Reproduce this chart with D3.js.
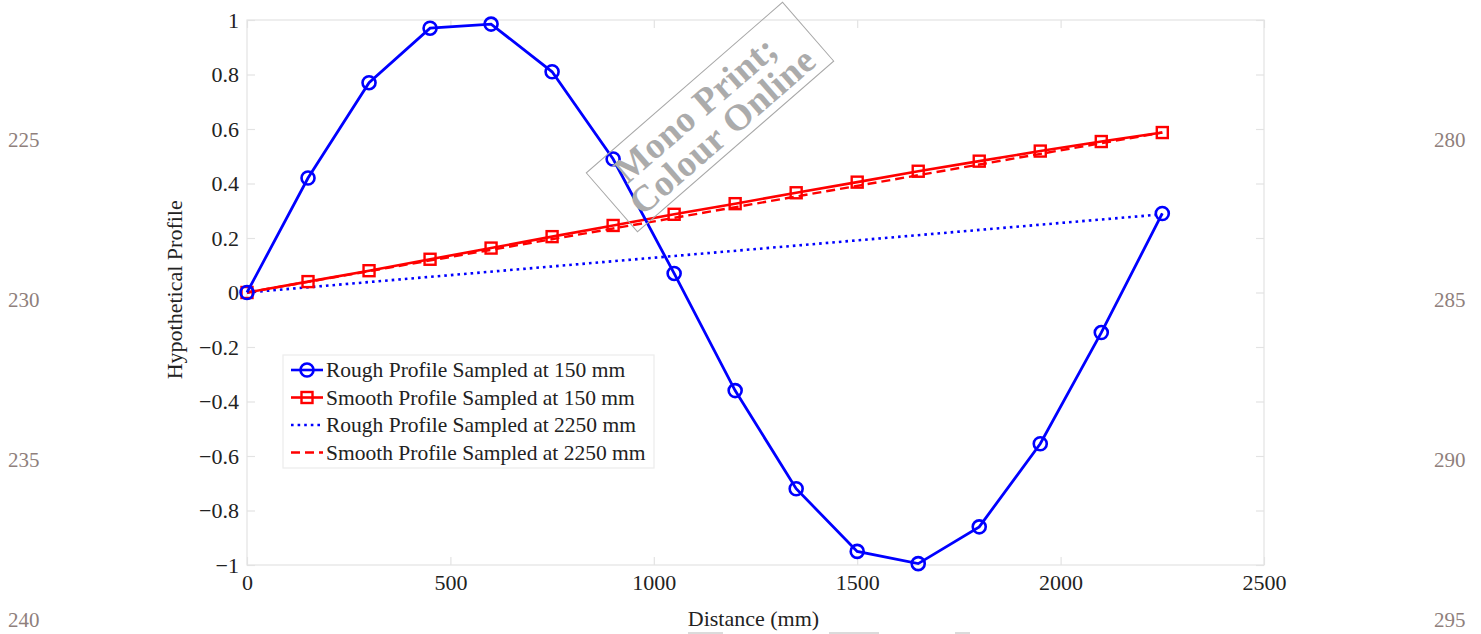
<!DOCTYPE html>
<html>
<head>
<meta charset="utf-8">
<script src="https://cdn.jsdelivr.net/npm/d3@7"></script>
<style>
  body { margin: 0; background: #fff; }
  svg { display: block; font-family: "Liberation Serif", "DejaVu Serif", serif; }
</style>
</head>
<body>
<div id="vis"></div>
<script>
// sample positions (mm)
var distance150 = [0, 150, 300, 450, 600, 750, 900, 1050, 1200, 1350, 1500, 1650, 1800, 1950, 2100, 2250];
var rough150 = [0, 0.42, 0.77, 0.97, 0.985, 0.81, 0.49, 0.07, -0.36, -0.72, -0.95, -0.995, -0.86, -0.555, -0.147, 0.29];
var smooth150 = [0, 0.04, 0.08, 0.122, 0.163, 0.205, 0.246, 0.287, 0.326, 0.366, 0.405, 0.445, 0.482, 0.519, 0.554, 0.587];
var distance2250 = [0, 2250];
var rough2250 = [0, 0.287];
var smooth2250 = [0, 0.587];

var xTicks = [0, 500, 1000, 1500, 2000, 2500];
var yTicks = [-1, -0.8, -0.6, -0.4, -0.2, 0, 0.2, 0.4, 0.6, 0.8, 1];

var legendLabels = [
  'Rough Profile Sampled at 150 mm',
  'Smooth Profile Sampled at 150 mm',
  'Rough Profile Sampled at 2250 mm',
  'Smooth Profile Sampled at 2250 mm'
];

// page line numbers
var leftLineNums = ['225', '230', '235', '240'];
var rightLineNums = ['280', '285', '290', '295'];

var width = 1481;
var height = 634;
var margin = { left: 247, right: 217, top: 20, bottom: 69 };

var svg = d3.select('#vis').append('svg')
  .attr('width', width)
  .attr('height', height);

var x = d3.scaleLinear().domain([0, 2500]).range([margin.left, width - margin.right]);
var y = d3.scaleLinear().domain([-1, 1]).range([height - margin.bottom, margin.top]);

var axisColor = '#e3e3e3';
var tickLen = 8;

// box
svg.append('rect')
  .attr('x', x(0)).attr('y', y(1))
  .attr('width', x(2500) - x(0)).attr('height', y(-1) - y(1))
  .attr('fill', 'none').attr('stroke', axisColor).attr('stroke-width', 1.2);

// axes with inward ticks
function styleAxis(g) {
  g.select('.domain').remove();
  g.selectAll('.tick line').attr('stroke', axisColor).attr('stroke-width', 1.2);
  g.selectAll('.tick text')
    .attr('fill', '#222')
    .style('font-size', '22px')
    .style('font-family', '"Liberation Serif", serif');
}

svg.append('g')
  .attr('transform', 'translate(0,' + y(-1) + ')')
  .call(d3.axisBottom(x).tickValues(xTicks).tickSize(-tickLen).tickPadding(9)
    .tickFormat(d3.format('d')))
  .call(styleAxis);

svg.append('g')
  .attr('transform', 'translate(0,' + y(1) + ')')
  .call(d3.axisTop(x).tickValues(xTicks).tickSize(-tickLen).tickFormat(''))
  .call(styleAxis);

var yFmt = function (d) {
  if (d === 0) return '0';
  if (d === 1) return '1';
  if (d === -1) return '\u22121';
  return (d < 0 ? '\u2212' : '') + Math.abs(d).toFixed(1);
};

svg.append('g')
  .attr('transform', 'translate(' + x(0) + ',0)')
  .call(d3.axisLeft(y).tickValues(yTicks).tickSize(-tickLen).tickPadding(8).tickFormat(yFmt))
  .call(styleAxis);

svg.append('g')
  .attr('transform', 'translate(' + x(2500) + ',0)')
  .call(d3.axisRight(y).tickValues(yTicks).tickSize(-tickLen).tickFormat(''))
  .call(styleAxis);

// axis labels
svg.append('text')
  .attr('x', x(1245)).attr('y', 626)
  .attr('text-anchor', 'middle')
  .attr('fill', '#222')
  .style('font-size', '22px')
  .text('Distance (mm)');

svg.append('text')
  .attr('transform', 'translate(182,' + y(0.01) + ') rotate(-90)')
  .attr('text-anchor', 'middle')
  .attr('fill', '#222')
  .style('font-size', '22px')
  .text('Hypothetical Profile');

// lines
var line = d3.line()
  .x(function (d) { return x(d[0]); })
  .y(function (d) { return y(d[1]); });

var blue = '#0000ff';
var red = '#ff0000';

function pairs(xs, ys) {
  return xs.map(function (d, i) { return [d, ys[i]]; });
}

svg.append('path')
  .datum(pairs(distance2250, rough2250))
  .attr('d', line)
  .attr('fill', 'none').attr('stroke', blue).attr('stroke-width', 2.6)
  .attr('stroke-dasharray', '2.6,4');

svg.append('path')
  .datum(pairs(distance2250, smooth2250))
  .attr('d', line)
  .attr('fill', 'none').attr('stroke', red).attr('stroke-width', 2.4)
  .attr('stroke-dasharray', '9,5');

svg.append('path')
  .datum(pairs(distance150, smooth150))
  .attr('d', line)
  .attr('fill', 'none').attr('stroke', red).attr('stroke-width', 2.6);

svg.selectAll('.sq')
  .data(pairs(distance150, smooth150))
  .enter().append('rect')
  .attr('class', 'sq')
  .attr('x', function (d) { return x(d[0]) - 5.5; })
  .attr('y', function (d) { return y(d[1]) - 5.5; })
  .attr('width', 11).attr('height', 11)
  .attr('fill', 'none').attr('stroke', red).attr('stroke-width', 2.4);

svg.append('path')
  .datum(pairs(distance150, rough150))
  .attr('d', line)
  .attr('fill', 'none').attr('stroke', blue).attr('stroke-width', 2.8);

svg.selectAll('.circ')
  .data(pairs(distance150, rough150))
  .enter().append('circle')
  .attr('class', 'circ')
  .attr('cx', function (d) { return x(d[0]); })
  .attr('cy', function (d) { return y(d[1]); })
  .attr('r', 6.5)
  .attr('fill', 'none').attr('stroke', blue).attr('stroke-width', 2.6);

// legend
var legend = svg.append('g').attr('transform', 'translate(283,355)');
legend.append('rect')
  .attr('width', 371).attr('height', 113)
  .attr('fill', '#fff').attr('stroke', '#ececec').attr('stroke-width', 1.2);

var legendStyles = [
  { color: blue, dash: null, marker: 'circle' },
  { color: red, dash: null, marker: 'square' },
  { color: blue, dash: '2.6,4', marker: null },
  { color: red, dash: '9,5', marker: null }
];

var rows = legend.selectAll('.lrow')
  .data(legendLabels)
  .enter().append('g')
  .attr('class', 'lrow')
  .attr('transform', function (d, i) { return 'translate(0,' + (15 + i * 27.5) + ')'; });

rows.append('line')
  .attr('x1', 8).attr('x2', 40).attr('y1', 0).attr('y2', 0)
  .attr('stroke', function (d, i) { return legendStyles[i].color; })
  .attr('stroke-width', 2.6)
  .attr('stroke-dasharray', function (d, i) { return legendStyles[i].dash; });

rows.each(function (d, i) {
  var g = d3.select(this);
  if (legendStyles[i].marker === 'circle') {
    g.append('circle').attr('cx', 24).attr('cy', 0).attr('r', 6.5)
      .attr('fill', 'none').attr('stroke', blue).attr('stroke-width', 2.6);
  } else if (legendStyles[i].marker === 'square') {
    g.append('rect').attr('x', 18.5).attr('y', -5.5).attr('width', 11).attr('height', 11)
      .attr('fill', 'none').attr('stroke', red).attr('stroke-width', 2.4);
  }
});

rows.append('text')
  .attr('x', 43).attr('y', 7)
  .attr('fill', '#222')
  .style('font-size', '21.5px')
  .text(function (d) { return d; });

// watermark
var wm = svg.append('g').attr('transform', 'translate(710,117) rotate(-41)');
wm.append('rect')
  .attr('x', -130).attr('y', -39).attr('width', 260).attr('height', 78)
  .attr('fill', 'none').attr('stroke', '#a8a8a8').attr('stroke-width', 1);
wm.append('text')
  .attr('x', -6).attr('y', -3)
  .attr('text-anchor', 'middle')
  .attr('fill', '#ababab')
  .style('font-size', '37px').style('font-weight', 'bold')
  .style('letter-spacing', '0.5px')
  .text('Mono Print;');
wm.append('text')
  .attr('x', 0).attr('y', 31)
  .attr('text-anchor', 'middle')
  .attr('fill', '#ababab')
  .style('font-size', '37px').style('font-weight', 'bold')
  .style('letter-spacing', '0.5px')
  .text('Colour Online');

// page line numbers
var numY = d3.scalePoint().domain(d3.range(4)).range([147, 627]);
svg.selectAll('.lnl')
  .data(leftLineNums)
  .enter().append('text')
  .attr('x', 8).attr('y', function (d, i) { return numY(i); })
  .attr('fill', '#8f7f7c')
  .style('font-size', '21px')
  .text(function (d) { return d; });

svg.selectAll('.lnr')
  .data(rightLineNums)
  .enter().append('text')
  .attr('x', 1434).attr('y', function (d, i) { return numY(i); })
  .attr('fill', '#8f7f7c')
  .style('font-size', '21px')
  .text(function (d) { return d; });

// cut-off marks at page bottom
svg.selectAll('.cut')
  .data([[688, 723], [829, 879], [955, 970]])
  .enter().append('line')
  .attr('x1', function (d) { return d[0]; })
  .attr('x2', function (d) { return d[1]; })
  .attr('y1', 633).attr('y2', 633)
  .attr('stroke', '#cfcfcf').attr('stroke-width', 1.5);
</script>
</body>
</html>
